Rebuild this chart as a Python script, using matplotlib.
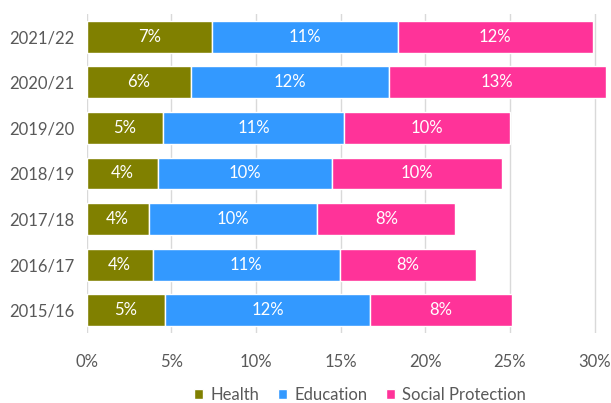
import numpy as np
import matplotlib
matplotlib.use('Agg')
import matplotlib.pyplot as plt
from matplotlib.ticker import FuncFormatter

### Data (share of spending, %)
years = ['2015/16', '2016/17', '2017/18', '2018/19', '2019/20', '2020/21', '2021/22']
health = [4.65, 3.90, 3.67, 4.24, 4.51, 6.18, 7.42]
education = [12.08, 11.07, 9.95, 10.28, 10.70, 11.68, 10.97]
social = [8.37, 8.01, 8.16, 10.03, 9.77, 12.79, 11.50]
series_names = ['Health', 'Education', 'Social Protection']
colours = ['#808000', '#3399FF', '#FF3399']

plt.rcParams['font.family'] = ['Lato', 'DejaVu Sans']

fig = plt.figure(figsize=(6.11, 4.03), dpi=100)
ax = fig.add_axes([86.5/611, 1-333/403, 525/611, 319/403])

ypos = np.arange(len(years))
left = np.zeros(len(years))
for vals, name, col in zip([health, education, social], series_names, colours):
    vals = np.array(vals)
    ax.barh(ypos, vals, left=left, height=0.7, color=col,
            edgecolor='white', linewidth=1, label=name, zorder=3)
    for y, l, v in zip(ypos, left, vals):
        ax.text(l + v/2, y, '%d%%' % round(v), ha='center', va='center',
                color='white', fontsize=12, zorder=4)
    left = left + vals

### Axes setup
ax.set_xlim(0, 31)
ax.set_ylim(-0.5, len(years)-0.5)
ax.set_xticks(np.arange(0, 31, 5))
ax.xaxis.set_major_formatter(FuncFormatter(lambda x, p: '%d%%' % x))
ax.set_yticks(ypos)
ax.set_yticklabels(years)
ax.grid(axis='x', color='#D9D9D9', linewidth=1, zorder=0)
for s in ax.spines.values():
    s.set_visible(False)
ax.tick_params(axis='both', length=0, colors='#595959', labelsize=12)
ax.tick_params(axis='x', pad=15)
ax.tick_params(axis='y', pad=9)

### Legend
leg = ax.legend(loc='center', bbox_to_anchor=(360/611, 1-395/403),
                bbox_transform=fig.transFigure, ncol=3, frameon=False,
                fontsize=12, handlelength=0.55, handleheight=0.55,
                columnspacing=1.1, handletextpad=0.45)
for t in leg.get_texts():
    t.set_color('#595959')

plt.savefig('out.png', dpi=100)
